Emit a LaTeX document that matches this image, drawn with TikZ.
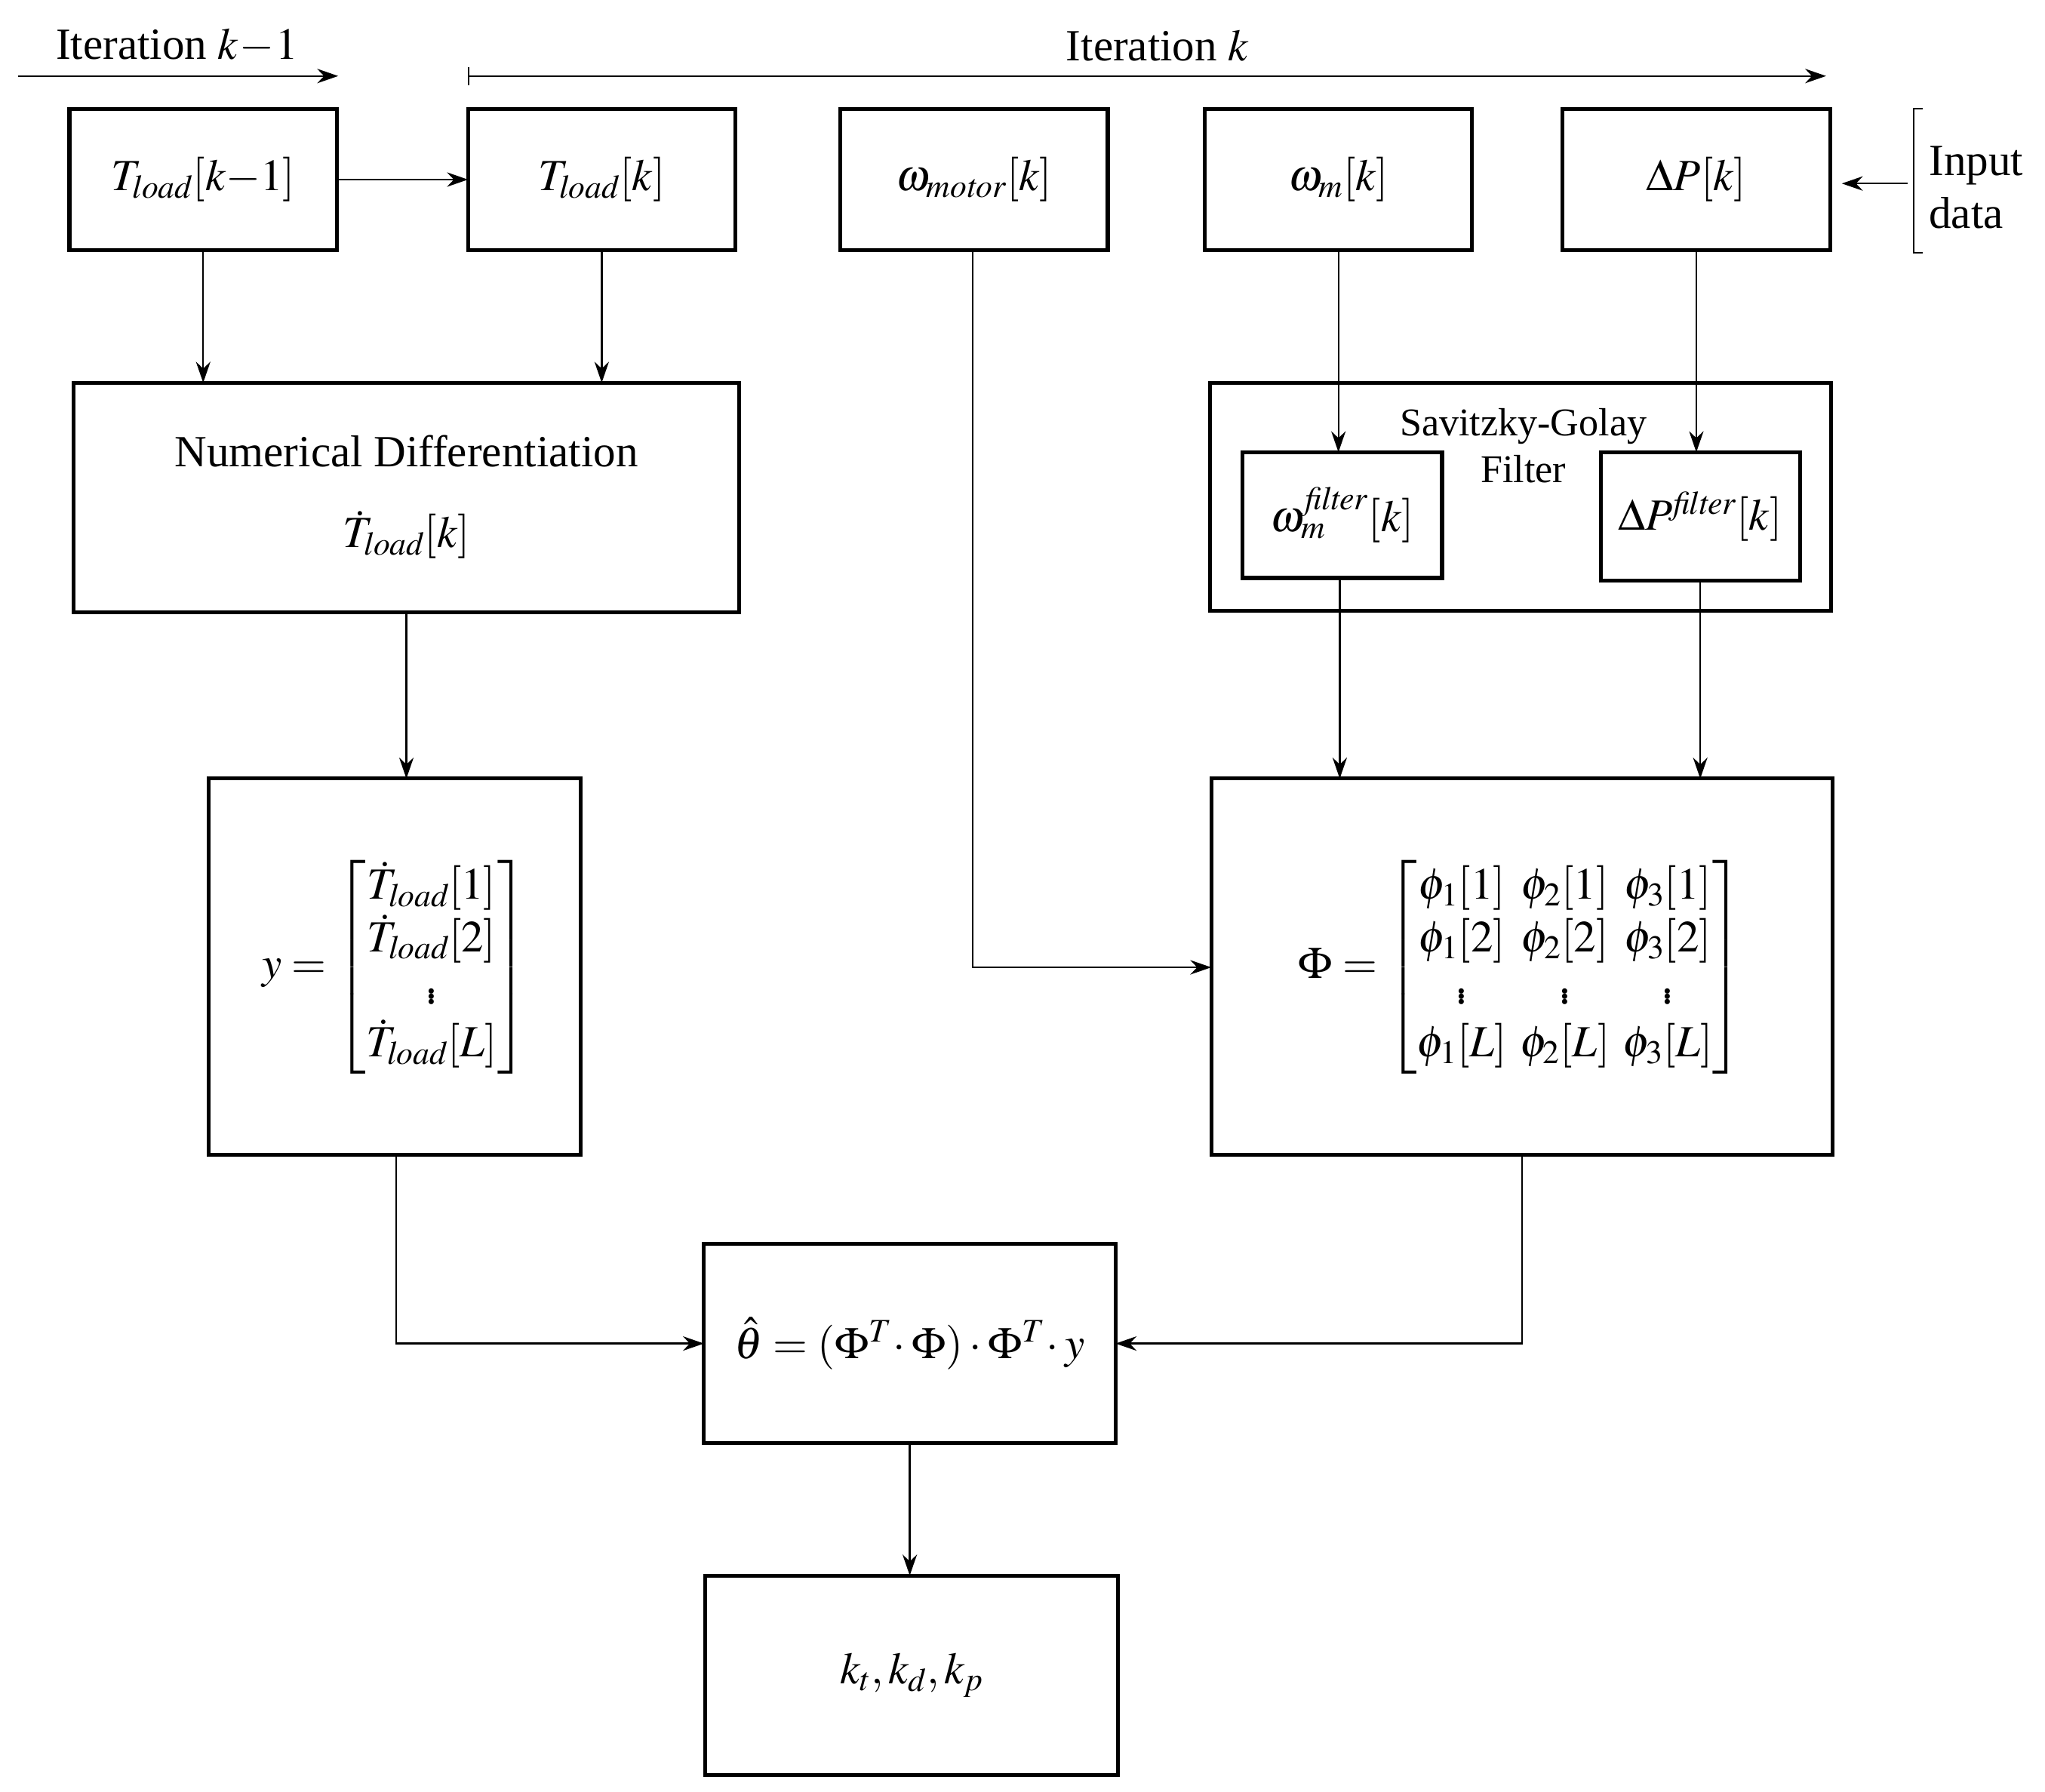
\documentclass[tikz,border=0pt]{standalone}
\usepackage{amsmath}
\usepackage{mathptmx}
\usepackage{fontspec}
\setmainfont{Liberation Serif}
\usetikzlibrary{arrows.meta}
\begin{document}
\begin{tikzpicture}[x=1pt,y=-1pt,
  box/.style={draw,line width=3pt},
  arr/.style={line width=1.3pt,-{Stealth[length=16pt,width=11pt]}},
  txt/.style={font=\fontsize{34}{40}\selectfont}]
\useasboundingbox (0,0) rectangle (1560,1367);
\tikzset{every node/.style={txt}}
% boxes
\draw[box] (53,83) rectangle (257,191) node[midway] (a) {$T_{\mathit{load}}[k{-}1]$};
\coordinate (aL) at (53,83);
\draw[box] (357,83) rectangle (561,191) node[midway] (b) {$T_{\mathit{load}}[k]$};
\draw[box] (641,83) rectangle (845,191) node[midway] (c) {$\omega_{\mathit{motor}}[k]$};
\draw[box] (919,83) rectangle (1123,191) node[midway] (d) {$\omega_{m}[k]$};
\draw[box] (1192,83) rectangle (1396,191) node[midway] (e) {$\Delta P[k]$};
\draw[box] (56,292) rectangle (564,467);
\node at (310,344) {Numerical Differentiation};
\node at (310,408) {$\dot T_{\mathit{load}}[k]$};
\draw[box] (923,292) rectangle (1397,466);
\node[align=center,font=\fontsize{30}{36}\selectfont] at (1162,340) {Savitzky-Golay\\Filter};
\draw[box] (948,345) rectangle (1100,441) node[midway] {$\omega_m^{\mathit{filter}}[k]$};
\draw[box] (1221,345) rectangle (1373,443) node[midway] {$\Delta P^{\mathit{filter}}[k]$};
\draw[box] (159,594) rectangle (443,881);
\node at (301,738) {$y=\begin{bmatrix}\dot T_{\mathit{load}}[1]\\ \dot T_{\mathit{load}}[2]\\ \vdots\\ \dot T_{\mathit{load}}[L]\end{bmatrix}$};
\draw[box] (924,594) rectangle (1398,881);
\node at (1160,738) {$\Phi=\begin{bmatrix}\phi_1[1] & \phi_2[1] & \phi_3[1]\\ \phi_1[2] & \phi_2[2] & \phi_3[2]\\ \vdots & \vdots & \vdots\\ \phi_1[L] & \phi_2[L] & \phi_3[L]\end{bmatrix}$};
\draw[box] (537,949) rectangle (851,1101) node[midway] {$\hat\theta=(\Phi^T\!\cdot\Phi)\cdot\Phi^T\!\cdot y$};
\draw[box] (538,1202) rectangle (853,1354) node[midway] {$k_t,k_d,k_p$};
% arrows
\draw[arr] (257,137) -- (357,137);
\draw[arr] (155,191) -- (155,292);
\draw[arr] (459,191) -- (459,292);
\draw[arr] (310,467) -- (310,594);
\draw[arr] (1021,191) -- (1021,345);
\draw[arr] (1294,191) -- (1294,345);
\draw[arr] (1022,441) -- (1022,594);
\draw[arr] (1297,443) -- (1297,594);
\draw[arr] (742,191) -- (742,738) -- (924,738);
\draw[arr] (302,881) -- (302,1025) -- (537,1025);
\draw[arr] (1161,881) -- (1161,1025) -- (851,1025);
\draw[arr] (694,1101) -- (694,1202);
% top
\node at (135,35) {Iteration $k\!-\!1$};
\draw[arr] (14,58) -- (258,58);
\node at (883,35) {Iteration $k$};
\draw[line width=1.3pt,{Bar[width=14pt]}-{Stealth[length=16pt,width=11pt]}] (357,58) -- (1393,58);
\draw[line width=1.3pt] (1467,83) -- (1460,83) -- (1460,193) -- (1467,193);
\node[align=left,anchor=west] at (1468,143) {Input\\data};
\draw[arr] (1455,140) -- (1405,140);
\end{tikzpicture}
\end{document}
